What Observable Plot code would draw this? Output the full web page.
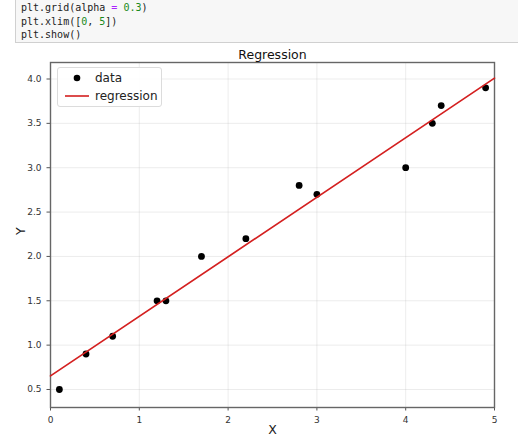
<!DOCTYPE html>
<html><head><meta charset="utf-8">
<script src="https://cdn.jsdelivr.net/npm/d3@7"></script>
<script src="https://cdn.jsdelivr.net/npm/@observablehq/plot@0.6"></script>
<style>
body{margin:0;background:#fff;font-family:"DejaVu Sans",sans-serif;}
#wrap{position:relative;width:518px;height:443px;overflow:hidden;}
#code{position:absolute;left:15px;top:-1px;width:510px;height:44px;background:#f7f7f7;border:1px solid #d0d0d0;box-sizing:border-box;
 font-family:"DejaVu Sans Mono",monospace;font-size:10px;padding:1px 0 0 5px;color:#222;}
#code .ln{height:13.5px;line-height:13.5px;white-space:pre;display:flex;}
#code .ln span{display:inline-block;white-space:pre;}
.n{color:#1a8a1a}.o{color:#aa22ff}
#chart{position:absolute;left:0;top:44px;}
#legend{position:absolute;left:57px;top:67px;width:105px;height:40px;background:rgba(255,255,255,0.9);border:1px solid #dcdcdc;border-radius:3px;box-sizing:border-box;font-size:12px;color:#222;}
#legend .row{position:absolute;left:0;height:16px;display:flex;align-items:center;}
#legend .sym{width:37px;display:flex;justify-content:center;align-items:center;}
</style></head>
<body><div id="wrap">
<div id="code">
 <div class="ln"><span>plt.grid(alpha </span><span class="o">=</span><span> </span><span class="n">0.3</span><span>)</span></div>
 <div class="ln"><span>plt.xlim([</span><span class="n">0</span><span>, </span><span class="n">5</span><span>])</span></div>
 <div class="ln"><span>plt.show()</span></div>
</div>
<div id="chart"></div>
<div id="legend">
 <div class="row" style="top:2px"><div class="sym"><svg width="10" height="10"><circle cx="5" cy="5" r="3.3" fill="#000"/></svg></div><span>data</span></div>
 <div class="row" style="top:20px"><div class="sym"><svg width="26" height="4"><line x1="1" y1="2" x2="25" y2="2" stroke="#d42020" stroke-width="1.6"/></svg></div><span>regression</span></div>
</div>
</div>
<script>
const xs = [0.1, 0.4, 0.7, 1.2, 1.3, 1.7, 2.2, 2.8, 3.0, 4.0, 4.3, 4.4, 4.9];
const ys = [0.5, 0.9, 1.1, 1.5, 1.5, 2.0, 2.2, 2.8, 2.7, 3.0, 3.5, 3.7, 3.9];
const xTicks = [0, 1, 2, 3, 4, 5];
const yTicks = [0.5, 1.0, 1.5, 2.0, 2.5, 3.0, 3.5, 4.0];
const xLimits = [0, 5];
const title = "Regression";

// least-squares fit
const mx = d3.mean(xs), my = d3.mean(ys);
const slope = d3.sum(xs, (x, i) => (x - mx) * (ys[i] - my)) / d3.sum(xs, x => (x - mx) ** 2);
const intercept = my - slope * mx;
const pts = xs.map((x, i) => ({x, y: ys[i]}));
const fit = xLimits.map(x => ({x, y: intercept + slope * x}));

const plot = Plot.plot({
  width: 518, height: 399,
  marginTop: 18, marginBottom: 36, marginLeft: 50, marginRight: 24,
  style: {fontFamily: "DejaVu Sans, sans-serif", fontSize: "9px", color: "#333", background: "transparent"},
  x: {domain: xLimits, ticks: xTicks, tickFormat: d3.format("d"), label: null, tickSize: 3.5},
  y: {domain: [0.297, 4.186], ticks: yTicks, tickFormat: d3.format(".1f"), label: null, tickSize: 3.5},
  marks: [
    Plot.gridX(xTicks, {stroke: "#b0b0b0", strokeOpacity: 0.3, strokeWidth: 0.8}),
    Plot.gridY(yTicks, {stroke: "#b0b0b0", strokeOpacity: 0.3, strokeWidth: 0.8}),
    Plot.axisX({ticks: xTicks, tickFormat: d3.format("d"), tickSize: 3.5, label: null, stroke: "#555"}),
    Plot.axisY({ticks: yTicks, tickFormat: d3.format(".1f"), tickSize: 3.5, label: null, stroke: "#555"}),
    Plot.frame({stroke: "#666", strokeWidth: 1.4}),
    Plot.dot(pts, {x: "x", y: "y", r: 3.4, fill: "#000"}),
    Plot.line(fit, {x: "x", y: "y", stroke: "#d42020", strokeWidth: 1.7}),
    Plot.text([title], {frameAnchor: "top", dy: -12, fontSize: 12.5, fill: "#111", text: d => d}),
    Plot.text(["X"], {frameAnchor: "bottom", dy: 26, fontSize: 12.5, fill: "#222", text: d => d}),
    Plot.text(["Y"], {frameAnchor: "left", dx: -30, rotate: -90, fontSize: 12.5, fill: "#222", text: d => d})
  ]
});
document.getElementById("chart").appendChild(plot);
</script>
</body></html>
